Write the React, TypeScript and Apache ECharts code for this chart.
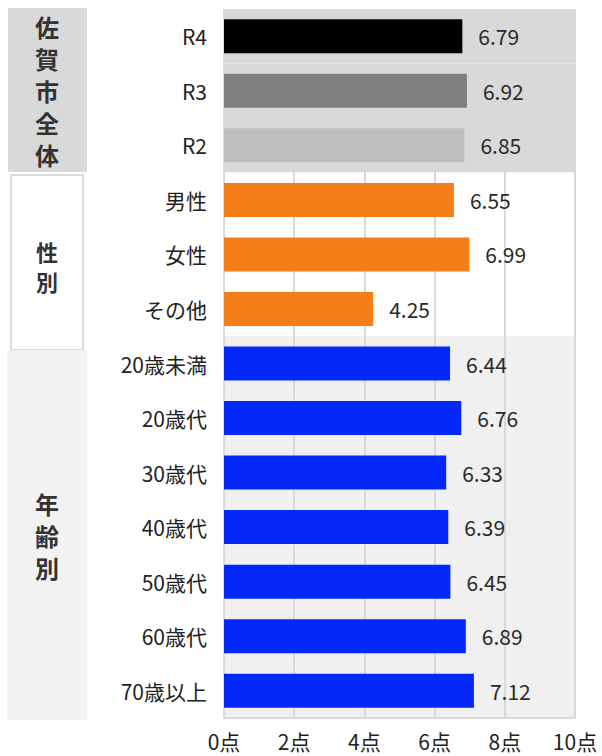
import React, { useEffect, useRef } from "react";
import * as echarts from "echarts";

const categories = ["R4", "R3", "R2", "男性", "女性", "その他", "20歳未満", "20歳代", "30歳代", "40歳代", "50歳代", "60歳代", "70歳以上"];
const values = [6.79, 6.92, 6.85, 6.55, 6.99, 4.25, 6.44, 6.76, 6.33, 6.39, 6.45, 6.89, 7.12];
const barColors = ["#000000", "#7f7f7f", "#bfbfbf", "#f47f1a", "#f47f1a", "#f47f1a", "#0528fa", "#0528fa", "#0528fa", "#0528fa", "#0528fa", "#0528fa", "#0528fa"];
const bandColors = ["#d9d9d9", "#d9d9d9", "#d9d9d9", "#ffffff", "#ffffff", "#ffffff", "#f0f0f0", "#f0f0f0", "#f0f0f0", "#f0f0f0", "#f0f0f0", "#f0f0f0", "#f0f0f0"];
const groupLabels = ["佐賀市全体", "性別", "年齢別"];
const xTicks = { min: 0, max: 10, interval: 2, unit: "点" };

const FONT = '"Noto Sans CJK JP", "Noto Sans", sans-serif';

export default function App() {
  const ref = useRef<HTMLDivElement>(null);
  useEffect(() => {
    document.body.style.margin = "0";
    if (!ref.current) return;
    const chart = echarts.init(ref.current, null, { renderer: "svg" });
    const vert = (s: string) => s.split("").join("\n");
    chart.setOption({
      animation: false,
      textStyle: { fontFamily: FONT },
      grid: { left: 224, right: 27, top: 9, bottom: 38, containLabel: false },
      xAxis: {
        type: "value",
        min: xTicks.min,
        max: xTicks.max,
        interval: xTicks.interval,
        z: 1,
        axisLine: { show: true, lineStyle: { color: "#d9d9d9", width: 2 } },
        axisTick: { show: false },
        splitLine: { show: true, lineStyle: { color: "#d9d9d9", width: 2 } },
        axisLabel: {
          formatter: (v: number) => v + xTicks.unit,
          fontSize: 21,
          color: "#222",
          margin: 12,
          fontFamily: FONT,
        },
      },
      yAxis: {
        type: "category",
        data: categories,
        inverse: true,
        z: 0,
        axisLine: { show: false },
        axisTick: { show: false },
        splitLine: { show: false },
        splitArea: { show: true, areaStyle: { color: bandColors } },
        axisLabel: { fontSize: 21, color: "#222", margin: 17, fontFamily: FONT },
      },
      series: [
        {
          type: "bar",
          z: 3,
          barWidth: 34,
          data: values.map((v, i) => ({ value: v, itemStyle: { color: barColors[i] } })),
          label: {
            show: true,
            position: "right",
            distance: 16,
            fontSize: 21,
            color: "#2a2a2a",
            fontFamily: FONT,
            formatter: (p: any) => p.value.toFixed(2),
          },
        },
      ],
      graphic: [
        { type: "rect", shape: { x: 8, y: 8, width: 79, height: 164 }, style: { fill: "#d9d9d9" }, silent: true },
        { type: "rect", shape: { x: 11, y: 175, width: 72, height: 175 }, style: { fill: "#ffffff", stroke: "#d9d9d9", lineWidth: 2 }, silent: true },
        { type: "rect", shape: { x: 7, y: 350, width: 80, height: 370 }, style: { fill: "#f2f2f2" }, silent: true },
        {
          type: "text", x: 47, y: 90,
          style: { text: vert(groupLabels[0]), font: `bold 24px ${FONT}`, lineHeight: 32, fill: "#333", textAlign: "center", textVerticalAlign: "middle" },
        },
        {
          type: "text", x: 47, y: 266,
          style: { text: vert(groupLabels[1]), font: `bold 22px ${FONT}`, lineHeight: 30, fill: "#333", textAlign: "center", textVerticalAlign: "middle" },
        },
        {
          type: "text", x: 47, y: 535,
          style: { text: vert(groupLabels[2]), font: `bold 24px ${FONT}`, lineHeight: 32, fill: "#333", textAlign: "center", textVerticalAlign: "middle" },
        },
      ],
    });
    return () => chart.dispose();
  }, []);
  return <div ref={ref} style={{ width: 602, height: 756, position: "absolute", left: 0, top: 0 }} />;
}
